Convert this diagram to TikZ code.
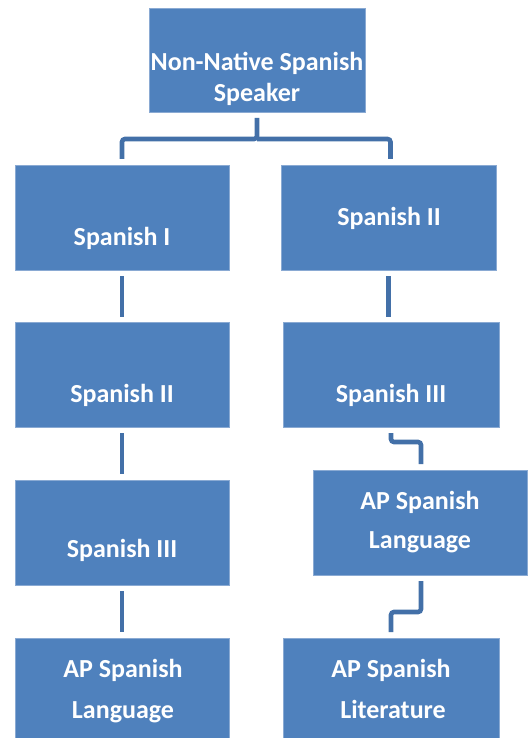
\documentclass[tikz,border=0pt]{standalone}
\usepackage{fontspec}
\setmainfont{Carlito}
\definecolor{boxfill}{HTML}{4F81BD}
\definecolor{boxline}{HTML}{8AAAD3}
\definecolor{linkcol}{HTML}{4370A8}
\begin{document}
\begin{tikzpicture}[x=1pt,y=-1pt,
  box/.style={draw=boxline,line width=0.6pt,fill=boxfill,inner sep=0pt,outer sep=0pt},
  lbl/.style={text=white,font=\fontsize{26}{30}\selectfont\bfseries,anchor=base,inner sep=0pt},
  link/.style={draw=linkcol,line width=4.6pt,rounded corners=3pt}]
\useasboundingbox (0,0) rectangle (527,738);
% boxes
\node[box,minimum width=216pt,minimum height=104pt] (top) at (257,60) {};
\node[box,minimum width=214pt,minimum height=105pt] (l1) at (122,217.5) {};
\node[box,minimum width=215pt,minimum height=105pt] (r1) at (388.5,217.5) {};
\node[box,minimum width=214pt,minimum height=105pt] (l2) at (122,374.5) {};
\node[box,minimum width=216pt,minimum height=105pt] (r2) at (391,374.5) {};
\node[box,minimum width=214pt,minimum height=105pt] (l3) at (122,532.5) {};
\node[box,minimum width=214pt,minimum height=105pt] (r3) at (420,522.5) {};
\node[box,minimum width=214pt,minimum height=102pt] (l4) at (122,689) {};
\node[box,minimum width=216pt,minimum height=102pt] (r4) at (391,689) {};
% labels
\node[lbl] (t1) at (257,71) {Non-Native Spanish};
\node[lbl] (t2) at (257,102) {Speaker};
\node[lbl] (tl1) at (122,245) {Spanish I};
\node[lbl] (tr1) at (389,225) {Spanish II};
\node[lbl] (tl2) at (122,402) {Spanish II};
\node[lbl] (tr2) at (391,402) {Spanish III};
\node[lbl] (tl3) at (122,557) {Spanish III};
\node[lbl] (tr3a) at (420,509) {AP Spanish};
\node[lbl] (tr3b) at (420,548) {Language};
\node[lbl] (tl4a) at (123,677) {AP Spanish};
\node[lbl] (tl4b) at (123,718) {Language};
\node[lbl] (tr4a) at (391,677) {AP Spanish};
\node[lbl] (tr4b) at (393,718) {Literature};
% connectors
\draw[link] ([yshift=-6pt]top.south) -- ++(0,21) coordinate (mid)
  -| ([yshift=6pt]l1.north);
\draw[link] (mid) -| ([yshift=6pt,xshift=2pt]r1.north);
\draw[link] ([yshift=-6pt]l1.south) -- ([yshift=5pt]l2.north);
\draw[link] ([yshift=-6pt]r1.south) -- ([yshift=5pt,xshift=-2.5pt]r2.north);
\draw[link] ([yshift=-6pt]l2.south) -- ([yshift=6pt]l3.north);
\draw[link] ([yshift=-6pt]l3.south) -- ([yshift=6pt]l4.north);
\draw[link] ([yshift=-6pt]r2.south) -- ++(0,9) -| ([yshift=6pt,xshift=1pt]r3.north);
\draw[link] ([yshift=-6pt,xshift=1pt]r3.south) -- ++(0,31) -| ([yshift=6pt]r4.north);
\end{tikzpicture}
\end{document}
